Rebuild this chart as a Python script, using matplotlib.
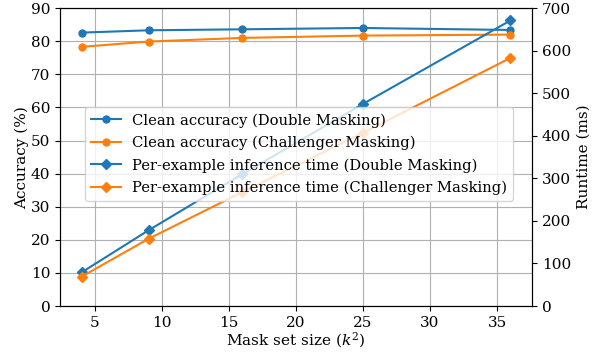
import matplotlib
matplotlib.use("Agg")
import matplotlib.pyplot as plt

plt.rcParams["font.family"] = "DejaVu Serif"
plt.rcParams["mathtext.fontset"] = "dejavuserif"

k2 = [4, 9, 16, 25, 36]
acc_double = [82.6, 83.3, 83.6, 84.0, 83.4]
acc_challenger = [78.3, 79.9, 81.0, 81.7, 82.0]
time_double = [79, 178, 310, 475, 671]
time_challenger = [69, 158, 268, 407, 583]

fig, ax1 = plt.subplots(figsize=(5.95, 3.53), dpi=100)
ax2 = ax1.twinx()

l1, = ax1.plot(k2, acc_double, "o-", color="C0", ms=5,
               label="Clean accuracy (Double Masking)")
l2, = ax1.plot(k2, acc_challenger, "o-", color="C1", ms=5,
               label="Clean accuracy (Challenger Masking)")
l3, = ax2.plot(k2, time_double, "D-", color="C0", ms=5,
               label="Per-example inference time (Double Masking)")
l4, = ax2.plot(k2, time_challenger, "D-", color="C1", ms=5,
               label="Per-example inference time (Challenger Masking)")

ax1.set_ylim(0, 90)
ax2.set_ylim(0, 700)
ax1.set_xlabel("Mask set size ($k^2$)", fontsize=11, labelpad=0.5)
ax1.set_ylabel("Accuracy (%)", fontsize=11, labelpad=1)
ax2.set_ylabel("Runtime (ms)", fontsize=11)
ax1.tick_params(labelsize=11)
ax2.tick_params(labelsize=11)
ax1.grid(True)

ax2.legend(handles=[l1, l2, l3, l4], loc="center left",
           bbox_to_anchor=(0.038, 0.51), fontsize=10.6, labelspacing=0.55)

fig.subplots_adjust(left=0.101, right=0.894, top=0.977, bottom=0.133)
fig.savefig("out.png")
